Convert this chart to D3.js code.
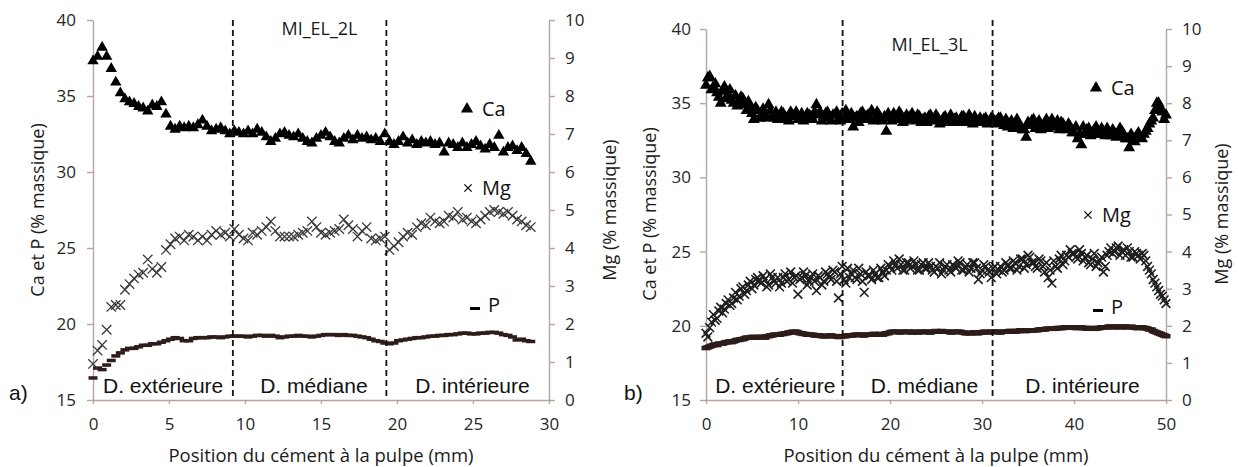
<!DOCTYPE html>
<html>
<head>
<meta charset="utf-8">
<script src="https://cdn.jsdelivr.net/npm/d3@7"></script>
<style>
  body { margin: 0; background: #fff; }
  svg { display: block; }
</style>
</head>
<body>
<svg id="drawing_region"></svg>
<script>
// ---- panel a : MI_EL_2L ----
const posA = [0,0.3,0.6,0.9,1.2,1.5,1.8,2.1,2.4,2.7,3,3.3,3.6,3.9,4.2,4.5,4.8,5.1,5.4,5.7,
  6,6.3,6.6,6.9,7.2,7.5,7.8,8.1,8.4,8.7,9,9.3,9.6,9.9,10.2,10.5,10.8,11.1,11.4,11.7,
  12,12.3,12.6,12.9,13.2,13.5,13.8,14.1,14.4,14.7,15,15.3,15.6,15.9,16.2,16.5,16.8,17.1,17.4,17.7,
  18,18.3,18.6,18.9,19.2,19.5,19.8,20.1,20.4,20.7,21,21.3,21.6,21.9,22.2,22.5,22.8,23.1,23.4,23.7,
  24,24.3,24.6,24.9,25.2,25.5,25.8,26.1,26.4,26.7,27,27.3,27.6,27.9,28.2,28.5,28.8];
const caA = [37.3,37.6,38.2,37.6,36.8,35.9,35.2,34.8,34.6,34.5,
  34.3,34.2,34.0,34.4,34.3,34.6,33.8,33.0,32.8,33.0,
  32.9,33.0,32.9,33.1,33.4,33.0,32.7,32.8,32.9,32.7,
  32.5,32.7,32.6,32.5,32.7,32.5,32.8,32.6,32.3,32.0,
  32.2,32.5,32.6,32.4,32.3,32.5,32.2,32.0,31.9,32.2,
  32.4,32.6,32.3,32.0,31.9,32.2,32.4,32.1,32.4,32.2,
  32.3,32.1,32.2,32.0,32.5,32.0,31.8,32.0,32.3,31.9,
  32.1,31.8,32.0,31.9,32.0,31.8,31.9,31.3,31.9,31.8,
  31.6,31.9,31.6,31.8,32.0,31.7,31.5,31.8,31.6,32.4,
  31.3,31.6,31.7,31.4,31.6,31.2,30.7];
const mgA = [0.95,1.3,1.45,1.85,2.45,2.5,2.5,2.9,3.05,3.2,
  3.3,3.35,3.7,3.45,3.35,3.5,3.95,4.1,4.25,4.3,
  4.2,4.35,4.3,4.2,4.3,4.2,4.35,4.45,4.35,4.4,
  4.3,4.5,4.35,4.25,4.2,4.4,4.35,4.45,4.55,4.7,
  4.45,4.3,4.3,4.3,4.3,4.35,4.4,4.45,4.7,4.55,
  4.4,4.35,4.4,4.45,4.5,4.75,4.6,4.5,4.3,4.45,
  4.55,4.25,4.2,4.25,4.3,3.95,4.05,4.15,4.3,4.4,
  4.35,4.55,4.65,4.6,4.8,4.7,4.65,4.7,4.85,4.8,
  4.95,4.75,4.8,4.7,4.65,4.75,4.85,4.95,5.0,4.95,
  4.9,4.95,4.85,4.75,4.7,4.6,4.55];
const pA = [16.45,17.1,17.0,17.3,17.6,17.9,18.1,18.3,18.4,18.4,
  18.5,18.6,18.6,18.7,18.7,18.8,18.9,19.0,19.1,19.05,
  18.9,18.9,19.05,19.1,19.1,19.1,19.15,19.15,19.1,19.15,
  19.2,19.2,19.2,19.2,19.15,19.2,19.25,19.25,19.2,19.25,
  19.2,19.1,19.15,19.2,19.2,19.25,19.2,19.2,19.15,19.2,
  19.25,19.3,19.3,19.3,19.25,19.3,19.25,19.25,19.2,19.15,
  19.1,19.0,18.9,18.85,18.75,18.7,18.75,18.9,18.95,19.0,
  19.05,19.1,19.1,19.15,19.2,19.2,19.25,19.25,19.3,19.3,
  19.35,19.4,19.4,19.35,19.35,19.4,19.4,19.45,19.45,19.4,
  19.3,19.25,19.15,18.95,19.0,18.9,18.85];

// ---- panel b : MI_EL_3L (two interleaved runs of readings) ----
const posB = [0,0.4,0.8,1.2,1.6,2,2.4,2.8,3.2,3.6,
  4,4.4,4.8,5.2,5.6,6,6.4,6.8,7.2,7.6,
  8,8.4,8.8,9.2,9.6,10,10.4,10.8,11.2,11.6,
  12,12.4,12.8,13.2,13.6,14,14.4,14.8,15.2,15.6,
  16,16.4,16.8,17.2,17.6,18,18.4,18.8,19.2,19.6,
  20,20.4,20.8,21.2,21.6,22,22.4,22.8,23.2,23.6,
  24,24.4,24.8,25.2,25.6,26,26.4,26.8,27.2,27.6,
  28,28.4,28.8,29.2,29.6,30,30.4,30.8,31.2,31.6,
  32,32.4,32.8,33.2,33.6,34,34.4,34.8,35.2,35.6,
  36,36.4,36.8,37.2,37.6,38,38.4,38.8,39.2,39.6,
  40,40.4,40.8,41.2,41.6,42,42.4,42.8,43.2,43.6,
  44,44.4,44.8,45.2,45.6,46,46.4,46.8,47.2,47.6,
  48,48.4,48.8,49.2,49.6,50];
const caB = [36.2,36.8,36.0,35.7,35.0,36.1,35.6,35.2,35.5,35.0,
  35.3,34.5,34.8,33.9,34.5,34.0,34.3,34.9,34.1,34.4,
  33.9,34.3,34.0,34.4,34.1,33.9,34.3,34.0,34.2,33.9,
  34.9,34.4,34.1,34.4,33.8,34.2,33.9,34.3,34.5,33.9,
  33.4,34.1,34.3,33.9,34.2,34.5,34.0,34.2,33.8,33.1,
  34.0,34.3,33.9,34.2,33.8,34.0,34.3,33.8,34.1,33.9,
  33.7,34.2,33.8,34.0,33.7,34.1,33.9,33.7,34.0,33.8,
  34.1,33.7,33.9,34.1,33.8,33.7,34.0,33.7,33.9,33.6,
  34.0,33.5,33.4,33.8,33.5,33.6,33.2,32.7,33.5,33.9,
  33.6,33.2,33.5,33.3,33.9,33.4,33.2,33.6,33.2,33.4,
  33.0,32.6,32.2,32.9,33.3,33.0,33.4,32.9,33.1,33.3,
  32.8,33.0,32.8,33.1,32.6,32.0,32.6,32.8,32.7,32.9,
  33.3,33.8,34.5,35.0,34.4,34.2];
const mgB = [1.8,1.95,2.3,2.2,2.5,2.45,2.7,2.6,2.9,2.8,
  3.05,2.95,3.2,3.1,3.3,3.15,3.25,3.1,3.3,3.15,
  3.05,3.3,3.2,3.45,3.3,2.85,3.3,3.35,3.2,3.4,
  2.95,3.3,3.2,3.4,3.25,3.45,2.75,3.6,3.15,3.3,
  3.5,3.25,3.4,2.9,3.35,3.25,3.4,3.3,3.45,3.5,
  3.6,3.75,3.55,3.65,3.5,3.7,3.6,3.65,3.5,3.7,
  3.55,3.6,3.45,3.55,3.4,3.6,3.5,3.65,3.55,3.7,
  3.5,3.65,3.55,3.7,3.25,3.5,3.6,3.45,3.55,3.4,
  3.6,3.5,3.65,3.55,3.7,3.6,3.8,3.65,3.85,3.7,
  3.55,3.75,3.45,3.3,3.15,3.6,3.8,3.65,3.9,4.05,
  3.95,3.8,3.95,3.85,3.7,3.8,3.6,3.75,3.45,3.9,
  4.1,4.0,4.15,4.0,3.9,4.0,3.85,3.95,3.8,3.9,
  3.6,3.4,3.15,2.95,2.8,2.6];
const pB = [18.5,18.6,18.7,18.7,18.8,18.85,18.9,18.9,19.0,19.05,
  19.1,19.2,19.2,19.25,19.2,19.25,19.2,19.3,19.35,19.4,
  19.4,19.45,19.5,19.55,19.6,19.55,19.5,19.45,19.4,19.4,
  19.35,19.35,19.3,19.3,19.35,19.3,19.25,19.3,19.3,19.35,
  19.35,19.4,19.4,19.35,19.4,19.4,19.45,19.4,19.4,19.5,
  19.55,19.6,19.6,19.55,19.6,19.6,19.55,19.6,19.55,19.6,
  19.6,19.55,19.6,19.6,19.65,19.6,19.6,19.55,19.6,19.6,
  19.55,19.5,19.5,19.55,19.5,19.55,19.6,19.55,19.6,19.6,
  19.55,19.6,19.6,19.65,19.6,19.65,19.7,19.65,19.7,19.7,
  19.7,19.75,19.75,19.8,19.8,19.8,19.85,19.85,19.9,19.9,
  19.9,19.85,19.9,19.85,19.8,19.85,19.8,19.85,19.9,19.9,
  19.95,19.9,19.95,19.9,19.95,19.9,19.9,19.85,19.9,19.85,
  19.8,19.75,19.6,19.5,19.4,19.3];

const posB2 = [0.2,0.6,1,1.4,1.8,2.2,2.6,3,3.4,3.8,
  4.2,4.6,5,5.4,5.8,6.2,6.6,7,7.4,7.8,
  8.2,8.6,9,9.4,9.8,10.2,10.6,11,11.4,11.8,
  12.2,12.6,13,13.4,13.8,14.2,14.6,15,15.4,15.8,
  16.2,16.6,17,17.4,17.8,18.2,18.6,19,19.4,19.8,
  20.2,20.6,21,21.4,21.8,22.2,22.6,23,23.4,23.8,
  24.2,24.6,25,25.4,25.8,26.2,26.6,27,27.4,27.8,
  28.2,28.6,29,29.4,29.8,30.2,30.6,31,31.4,31.8,
  32.2,32.6,33,33.4,33.8,34.2,34.6,35,35.4,35.8,
  36.2,36.6,37,37.4,37.8,38.2,38.6,39,39.4,39.8,
  40.2,40.6,41,41.4,41.8,42.2,42.6,43,43.4,43.8,
  44.2,44.6,45,45.4,45.8,46.2,46.6,47,47.4,47.8,
  48.2,48.6,49,49.4,49.8];
const caB2 = [36.7,35.9,36.3,35.4,35.8,35.3,35.9,35.0,34.8,35.4,
  34.9,35.1,34.3,34.7,34.0,34.6,34.0,34.5,34.0,33.9,
  34.4,34.0,33.8,34.2,34.4,34.0,33.8,34.3,34.1,34.4,
  34.2,33.8,34.3,34.0,34.2,34.4,33.8,34.1,33.9,34.3,
  34.0,33.7,34.4,34.1,34.0,33.8,34.4,33.9,34.1,34.3,
  33.8,34.1,34.4,33.7,34.2,34.1,33.9,34.2,33.7,34.0,
  34.1,33.9,34.2,33.6,34.0,33.8,34.2,33.9,33.7,34.1,
  33.9,34.2,33.6,33.8,34.0,33.9,33.6,34.0,33.8,34.0,
  33.7,33.9,33.6,33.3,33.9,33.4,33.2,33.7,33.8,33.3,
  33.8,33.4,33.9,33.6,33.5,33.8,33.7,33.3,33.6,33.0,
  33.4,32.9,33.4,33.2,32.8,33.2,32.9,33.3,32.8,33.0,
  33.2,32.7,33.3,32.9,32.6,32.9,32.4,33.0,32.6,33.1,
  33.6,34.0,35.0,34.7,33.9];
const mgB2 = [1.7,2.1,2.15,2.4,2.35,2.6,2.55,2.75,2.7,3.0,
  2.85,3.1,3.0,3.25,3.2,3.35,3.05,3.4,3.2,3.3,
  3.15,3.4,3.25,3.15,3.35,3.25,3.45,3.1,3.3,3.2,
  3.35,3.1,3.45,3.3,3.5,3.2,3.4,3.25,3.55,3.4,
  3.3,3.55,3.2,3.45,3.35,3.5,3.3,3.55,3.35,3.65,
  3.5,3.65,3.8,3.5,3.7,3.55,3.75,3.5,3.65,3.55,
  3.7,3.5,3.6,3.7,3.5,3.65,3.45,3.6,3.75,3.5,
  3.6,3.45,3.7,3.55,3.4,3.65,3.5,3.3,3.6,3.5,
  3.45,3.7,3.55,3.75,3.5,3.8,3.55,3.9,3.7,3.6,
  3.8,3.6,3.7,3.5,3.75,3.55,3.9,3.75,3.85,3.95,
  3.85,4.05,3.75,3.9,3.65,3.95,3.7,3.85,3.6,4.0,
  3.95,4.1,3.9,4.05,4.1,3.85,4.0,3.9,3.95,3.75,
  3.5,3.25,3.05,2.85,2.7];
const pB2 = [18.55,18.65,18.75,18.8,18.8,18.9,18.95,18.95,19.05,19.1,
  19.15,19.2,19.25,19.2,19.25,19.25,19.3,19.35,19.4,19.4,
  19.45,19.5,19.55,19.6,19.6,19.5,19.45,19.4,19.4,19.35,
  19.35,19.3,19.3,19.35,19.3,19.3,19.25,19.3,19.35,19.35,
  19.4,19.4,19.35,19.4,19.4,19.45,19.4,19.45,19.45,19.5,
  19.6,19.6,19.55,19.6,19.6,19.55,19.6,19.55,19.6,19.6,
  19.55,19.6,19.65,19.6,19.6,19.6,19.55,19.6,19.6,19.55,
  19.5,19.5,19.55,19.5,19.55,19.6,19.55,19.6,19.6,19.55,
  19.6,19.6,19.65,19.6,19.65,19.7,19.65,19.7,19.7,19.7,
  19.75,19.75,19.8,19.8,19.8,19.85,19.85,19.9,19.9,19.9,
  19.85,19.9,19.85,19.8,19.85,19.8,19.85,19.9,19.9,19.95,
  19.9,19.95,19.9,19.95,19.9,19.95,19.9,19.85,19.9,19.85,
  19.75,19.65,19.55,19.45,19.35];

// ---- ticks and labels ----
const leftTicks = [15, 20, 25, 30, 35, 40];
const rightTicks = [0, 1, 2, 3, 4, 5, 6, 7, 8, 9, 10];
const xTicksA = [0, 5, 10, 15, 20, 25, 30];
const xTicksB = [0, 10, 20, 30, 40, 50];
const zoneNames = ['D. extérieure', 'D. médiane', 'D. intérieure'];
const zoneLimitsA = [9.2, 19.3];
const zoneLimitsB = [14.85, 31.15];

const svg = d3.select('#drawing_region')
    .attr('width', 1238)
    .attr('height', 467);

class DualAxisScatter {

    constructor( config, runs ) {
        this.config = config;
        this.runs = runs;
        this.init();
    }

    init() {
        let self = this;
        let c = self.config;

        self.chart = svg.append('g');

        self.xscale = d3.scaleLinear()
            .domain([0, c.xmax])
            .range([c.left, c.right]);
        self.yleft = d3.scaleLinear()
            .domain([15, 40])
            .range([c.bottom, c.top]);
        self.yright = d3.scaleLinear()
            .domain([0, 10])
            .range([c.bottom, c.top]);

        self.points = self.runs.flatMap( r => r.pos.map( (x, i) => ({
            x: x, ca: r.ca[i], mg: r.mg[i], p: r.p[i]
        })));
    }

    render() {
        let self = this;
        let c = self.config;
        const axisColor = '#b5a59e';
        const font = "'Open Sans', sans-serif";

        // axes
        const xaxis = self.chart.append('g')
            .attr('transform', `translate(0, ${c.bottom})`)
            .call( d3.axisBottom(self.xscale).tickValues(c.xticks)
                .tickSize(4).tickSizeOuter(0).tickPadding(14) );
        const laxis = self.chart.append('g')
            .attr('transform', `translate(${c.left}, 0)`)
            .call( d3.axisLeft(self.yleft).tickValues(leftTicks)
                .tickSize(6).tickSizeOuter(0).tickPadding(c.lpad) );
        const raxis = self.chart.append('g')
            .attr('transform', `translate(${c.right}, 0)`)
            .call( d3.axisRight(self.yright).tickValues(rightTicks)
                .tickSize(6).tickSizeOuter(0).tickPadding(10) );

        [xaxis, laxis, raxis].forEach( a => {
            a.selectAll('path, line').attr('stroke', axisColor).attr('stroke-width', 1.4);
            a.selectAll('text')
                .attr('fill', '#262626')
                .style('font-family', font)
                .style('font-size', '17px');
        });

        // P markers (short dashes)
        self.chart.append('g').selectAll('rect')
            .data(self.points)
            .enter()
            .append('rect')
            .attr('x', d => self.xscale(d.x) - 4.5)
            .attr('y', d => self.yleft(d.p) - c.pdash / 2)
            .attr('width', 9)
            .attr('height', c.pdash)
            .attr('fill', '#2e1c1a');

        // Mg markers (crosses) on right axis
        const cross = d3.symbol().type(d3.symbolTimes).size(c.mgSize);
        self.chart.append('g').selectAll('path')
            .data(self.points)
            .enter()
            .append('path')
            .attr('d', cross)
            .attr('transform', d => `translate(${self.xscale(d.x)}, ${self.yright(d.mg)})`)
            .attr('fill', 'none')
            .attr('stroke', c.mgColor)
            .attr('stroke-width', c.mgWidth);

        // Ca markers (triangles)
        const tri = d3.symbol().type(d3.symbolTriangle).size(c.caSize);
        self.chart.append('g').selectAll('path')
            .data(self.points)
            .enter()
            .append('path')
            .attr('d', tri)
            .attr('transform', d => `translate(${self.xscale(d.x)}, ${self.yleft(d.ca)})`)
            .attr('fill', '#000');

        // zone boundaries
        self.chart.append('g').selectAll('line')
            .data(c.limits)
            .enter()
            .append('line')
            .attr('x1', d => self.xscale(d))
            .attr('x2', d => self.xscale(d))
            .attr('y1', 20)
            .attr('y2', c.bottom)
            .attr('stroke', '#111')
            .attr('stroke-width', 1.8)
            .attr('stroke-dasharray', '6,4');

        // zone names
        self.chart.append('g').selectAll('text')
            .data(zoneNames)
            .enter()
            .append('text')
            .attr('x', (d, i) => self.xscale(c.zoneAt[i]))
            .attr('y', 393)
            .style('font-family', "'Liberation Sans', Arial, sans-serif")
            .style('font-size', '21px')
            .attr('fill', '#111')
            .text(d => d);

        // panel letter
        self.chart.append('text')
            .attr('x', c.letterX)
            .attr('y', 400)
            .style('font-family', "'Liberation Sans', Arial, sans-serif")
            .style('font-size', '21px')
            .attr('fill', '#111')
            .text(c.letter);

        // sample title
        self.chart.append('text')
            .attr('x', self.xscale(c.titleAt))
            .attr('y', c.titleY)
            .attr('text-anchor', 'middle')
            .style('font-family', font)
            .style('font-size', '18px')
            .attr('fill', '#1a1a1a')
            .text(c.title);

        // axis titles
        self.chart.append('text')
            .attr('x', (c.left + c.right) / 2)
            .attr('y', 462)
            .attr('text-anchor', 'middle')
            .style('font-family', font)
            .style('font-size', '18.5px')
            .attr('fill', '#1a1a1a')
            .text('Position du cément à la pulpe (mm)');
        self.chart.append('text')
            .attr('transform', `translate(${c.ltitleX}, ${c.titleMid}) rotate(-90)`)
            .attr('text-anchor', 'middle')
            .style('font-family', font)
            .style('font-size', '18px')
            .attr('fill', '#1a1a1a')
            .text('Ca et P (% massique)');
        self.chart.append('text')
            .attr('transform', `translate(${c.rtitleX}, ${c.titleMid}) rotate(-90)`)
            .attr('text-anchor', 'middle')
            .style('font-family', font)
            .style('font-size', '18px')
            .attr('fill', '#1a1a1a')
            .text('Mg (% massique)');

        // legend
        const lg = self.chart.append('g')
            .style('font-family', font)
            .style('font-size', '20px')
            .attr('fill', '#111');
        lg.append('path')
            .attr('d', d3.symbol().type(d3.symbolTriangle).size(64))
            .attr('transform', `translate(${c.legCa[0]}, ${c.legCa[1]})`)
            .attr('fill', '#000');
        lg.append('text').attr('x', c.legCa[0] + 15).attr('y', c.legCa[1] + 7).text('Ca');
        lg.append('path')
            .attr('d', d3.symbol().type(d3.symbolTimes).size(36))
            .attr('transform', `translate(${c.legMg[0]}, ${c.legMg[1]})`)
            .attr('fill', 'none')
            .attr('stroke', '#111')
            .attr('stroke-width', 1.4);
        lg.append('text').attr('x', c.legMg[0] + 14).attr('y', c.legMg[1] + 7).text('Mg');
        lg.append('rect')
            .attr('x', c.legP[0] - 5)
            .attr('y', c.legP[1] + 2)
            .attr('width', 10)
            .attr('height', 3)
            .attr('fill', '#000');
        lg.append('text').attr('x', c.legP[0] + 13).attr('y', c.legP[1] + 7).text('P');
    }
}

const panelA = new DualAxisScatter({
    left: 93, right: 549, top: 20, bottom: 400, xmax: 30,
    xticks: xTicksA, lpad: 11, limits: zoneLimitsA,
    zoneAt: [0.66, 11.0, 21.2], letter: 'a)', letterX: 9,
    title: 'MI_EL_2L', titleAt: 14.9, titleY: 35,
    ltitleX: 44, rtitleX: 616, titleMid: 210,
    legCa: [467, 109], legMg: [468, 188], legP: [475, 305],
    caSize: 56, mgSize: 60, mgColor: '#3a3a3a', mgWidth: 1.3, pdash: 3.5
}, [ { pos: posA, ca: caA, mg: mgA, p: pA } ]);
panelA.render();

const panelB = new DualAxisScatter({
    left: 706, right: 1166, top: 29, bottom: 400, xmax: 50,
    xticks: xTicksB, lpad: 9, limits: zoneLimitsB,
    zoneAt: [1.0, 17.9, 34.7], letter: 'b)', letterX: 624,
    title: 'MI_EL_3L', titleAt: 24.3, titleY: 51,
    ltitleX: 656, rtitleX: 1228, titleMid: 214,
    legCa: [1096, 88], legMg: [1088, 215], legP: [1098, 307],
    caSize: 62, mgSize: 52, mgColor: '#1e1e1e', mgWidth: 1.6, pdash: 4.5
}, [ { pos: posB, ca: caB, mg: mgB, p: pB }, { pos: posB2, ca: caB2, mg: mgB2, p: pB2 } ]);
panelB.render();
</script>
</body>
</html>
